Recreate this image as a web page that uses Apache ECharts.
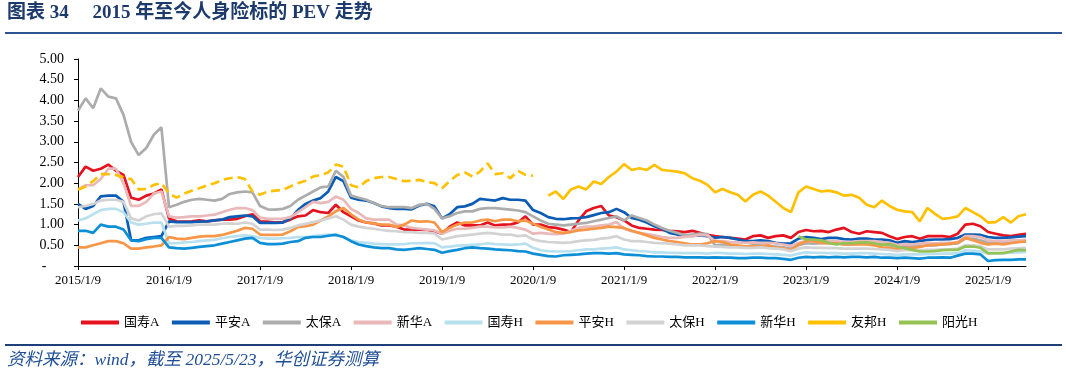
<!DOCTYPE html>
<html><head><meta charset="utf-8">
<script src="https://cdn.jsdelivr.net/npm/echarts@6/dist/echarts.min.js"></script>
<style>html,body{margin:0;padding:0;background:#fff}#c{width:1066px;height:377px}</style>
</head><body><div id="c"></div>
<script>
// categories: monthly sample dates (axis categories), last point = data cut-off date
const categories = [];
for (let y = 2015; y <= 2025; y++) {
  for (let m = 1; m <= 12; m++) {
    if (y === 2025 && m > 5) break;
    categories.push(y + '/' + m + '/9');
  }
}
categories.push('2025/5/23');

const seriesNames = ['国寿A','平安A','太保A','新华A','国寿H','平安H','太保H','新华H','友邦H','阳光H'];
const yTicks = [0,0.5,1,1.5,2,2.5,3,3.5,4,4.5,5];

const gsA = [
 2.15,2.4,2.3,2.35,2.45,2.3,2.2,1.65,1.6,1.7,1.75,1.85,
 1.15,1.08,1.07,1.08,1.1,1.08,1.1,1.12,1.12,1.14,1.2,1.25,
 1.08,1.07,1.05,1.06,1.12,1.2,1.22,1.35,1.3,1.28,1.48,1.3,
 1.2,1.1,1.05,1.03,0.98,0.98,0.95,0.88,0.88,0.88,0.87,0.84,
 0.78,0.95,1.05,0.98,0.98,0.98,1.05,0.98,1.0,1.0,1.05,1.2,
 1.0,1.0,0.94,0.92,0.88,0.82,1.1,1.32,1.4,1.45,1.22,1.18,
 1.1,0.98,0.92,0.9,0.88,0.87,0.85,0.84,0.82,0.85,0.8,0.75,
 0.72,0.7,0.68,0.66,0.64,0.72,0.74,0.68,0.72,0.74,0.68,0.82,
 0.87,0.84,0.85,0.82,0.88,0.92,0.82,0.78,0.84,0.82,0.8,0.72,
 0.65,0.7,0.72,0.66,0.72,0.72,0.72,0.7,0.78,1.0,1.02,0.96,
 0.82,0.78,0.74,0.72,0.75,0.78];
const paA = [
 1.5,1.38,1.45,1.68,1.7,1.7,1.55,0.62,0.62,0.68,0.7,0.72,
 1.08,1.06,1.06,1.06,1.07,1.08,1.1,1.12,1.18,1.2,1.22,1.2,
 1.04,1.04,1.04,1.05,1.15,1.35,1.5,1.58,1.64,1.8,2.15,2.05,
 1.65,1.6,1.58,1.52,1.44,1.4,1.38,1.38,1.37,1.46,1.5,1.44,
 1.15,1.25,1.42,1.44,1.5,1.62,1.6,1.58,1.64,1.6,1.6,1.58,
 1.35,1.28,1.18,1.14,1.13,1.15,1.16,1.18,1.23,1.28,1.3,1.38,
 1.3,1.16,1.12,1.05,0.96,0.9,0.8,0.76,0.74,0.73,0.74,0.72,
 0.68,0.7,0.68,0.64,0.6,0.6,0.62,0.6,0.56,0.54,0.55,0.66,
 0.7,0.68,0.65,0.68,0.68,0.65,0.64,0.66,0.66,0.64,0.64,0.62,
 0.56,0.6,0.58,0.6,0.63,0.64,0.64,0.65,0.68,0.76,0.76,0.75,
 0.7,0.68,0.68,0.69,0.71,0.72];
const tbA = [
 3.75,4.05,3.81,4.29,4.09,4.05,3.65,3.0,2.68,2.85,3.17,3.35,
 1.42,1.48,1.55,1.6,1.62,1.6,1.58,1.62,1.74,1.78,1.8,1.78,
 1.45,1.37,1.36,1.38,1.45,1.6,1.7,1.8,1.9,1.92,2.3,2.15,
 1.7,1.65,1.6,1.52,1.45,1.42,1.42,1.42,1.4,1.48,1.5,1.38,
 1.15,1.2,1.28,1.32,1.32,1.38,1.4,1.4,1.38,1.36,1.34,1.3,
 1.2,1.1,1.02,1.0,0.98,1.0,1.02,1.04,1.08,1.12,1.16,1.2,
 1.1,1.22,1.16,1.1,1.0,0.92,0.85,0.8,0.74,0.76,0.78,0.77,
 0.5,0.52,0.5,0.48,0.47,0.5,0.5,0.48,0.47,0.45,0.42,0.5,
 0.55,0.54,0.55,0.56,0.55,0.52,0.52,0.54,0.55,0.53,0.52,0.5,
 0.46,0.48,0.48,0.48,0.5,0.5,0.52,0.53,0.55,0.66,0.66,0.62,
 0.56,0.56,0.55,0.57,0.58,0.6];
const xhA = [
 1.85,1.95,1.95,2.1,2.35,2.35,2.0,1.45,1.45,1.55,1.75,1.8,
 1.2,1.17,1.18,1.2,1.2,1.22,1.24,1.3,1.36,1.4,1.4,1.35,
 1.17,1.14,1.14,1.14,1.18,1.3,1.42,1.55,1.52,1.55,1.68,1.6,
 1.38,1.28,1.15,1.12,1.12,1.12,1.0,0.98,0.92,0.9,0.88,0.86,
 0.78,0.85,0.9,0.9,0.92,0.95,0.95,0.93,0.93,0.95,0.92,0.88,
 0.78,0.8,0.78,0.77,0.78,0.85,0.92,0.95,0.95,0.98,1.0,1.06,
 0.9,0.84,0.8,0.77,0.74,0.7,0.68,0.68,0.7,0.72,0.75,0.74,
 0.6,0.6,0.58,0.57,0.56,0.57,0.56,0.56,0.55,0.52,0.48,0.56,
 0.6,0.6,0.6,0.6,0.6,0.58,0.58,0.6,0.6,0.6,0.58,0.56,
 0.51,0.52,0.52,0.54,0.56,0.55,0.56,0.56,0.58,0.72,0.72,0.7,
 0.62,0.6,0.6,0.62,0.62,0.63];
const gsH = [
 1.1,1.15,1.25,1.35,1.38,1.38,1.3,1.05,1.0,1.02,1.05,1.05,
 0.55,0.55,0.57,0.58,0.6,0.62,0.63,0.67,0.7,0.72,0.74,0.72,
 0.68,0.66,0.66,0.67,0.68,0.7,0.7,0.72,0.74,0.76,0.76,0.7,
 0.62,0.58,0.56,0.54,0.53,0.52,0.52,0.53,0.55,0.55,0.56,0.55,
 0.45,0.47,0.49,0.5,0.51,0.52,0.55,0.53,0.52,0.51,0.52,0.54,
 0.44,0.38,0.36,0.35,0.35,0.36,0.38,0.4,0.4,0.42,0.43,0.45,
 0.4,0.38,0.36,0.35,0.33,0.33,0.32,0.32,0.31,0.31,0.31,0.3,
 0.32,0.31,0.3,0.3,0.29,0.3,0.3,0.29,0.28,0.27,0.25,0.3,
 0.33,0.32,0.32,0.31,0.31,0.3,0.3,0.31,0.31,0.3,0.29,0.28,
 0.27,0.28,0.28,0.28,0.29,0.29,0.3,0.3,0.31,0.38,0.37,0.35,
 0.3,0.3,0.31,0.32,0.33,0.34];
const paH = [
 0.45,0.45,0.5,0.55,0.6,0.6,0.55,0.42,0.42,0.45,0.47,0.5,
 0.7,0.66,0.65,0.68,0.71,0.72,0.72,0.75,0.8,0.85,0.92,0.9,
 0.76,0.75,0.75,0.76,0.84,0.94,0.96,1.0,1.1,1.2,1.32,1.4,
 1.25,1.12,1.05,1.03,1.0,1.0,0.94,1.0,1.1,1.07,1.08,1.05,
 0.82,0.92,1.0,1.05,1.05,1.1,1.12,1.08,1.12,1.12,1.08,1.1,
 1.02,0.95,0.88,0.82,0.8,0.82,0.86,0.88,0.9,0.92,0.95,0.94,
 0.92,0.85,0.8,0.74,0.68,0.64,0.6,0.58,0.55,0.52,0.52,0.55,
 0.6,0.58,0.52,0.5,0.47,0.48,0.47,0.5,0.44,0.43,0.38,0.52,
 0.6,0.6,0.56,0.55,0.55,0.52,0.52,0.52,0.52,0.5,0.45,0.44,
 0.4,0.43,0.43,0.46,0.5,0.51,0.52,0.54,0.56,0.68,0.62,0.56,
 0.52,0.54,0.52,0.55,0.58,0.59];
const tbH = [
 1.42,1.45,1.5,1.58,1.6,1.6,1.55,1.15,1.1,1.2,1.25,1.27,
 0.95,0.97,0.97,0.98,1.0,1.0,1.0,1.02,1.03,1.02,1.05,1.02,
 0.88,0.88,0.87,0.88,0.92,0.98,1.02,1.06,1.1,1.15,1.2,1.12,
 1.0,0.95,0.92,0.9,0.87,0.85,0.84,0.82,0.82,0.8,0.8,0.78,
 0.64,0.68,0.72,0.74,0.76,0.78,0.8,0.78,0.76,0.76,0.72,0.74,
 0.64,0.6,0.58,0.57,0.56,0.57,0.6,0.62,0.63,0.66,0.68,0.72,
 0.64,0.6,0.6,0.58,0.56,0.55,0.54,0.52,0.5,0.5,0.5,0.48,
 0.47,0.46,0.45,0.45,0.44,0.44,0.45,0.43,0.42,0.4,0.36,0.42,
 0.45,0.44,0.44,0.43,0.43,0.42,0.42,0.42,0.42,0.41,0.4,0.39,
 0.36,0.38,0.38,0.38,0.39,0.39,0.4,0.4,0.42,0.5,0.5,0.48,
 0.4,0.4,0.4,0.42,0.43,0.44];
const xhH = [
 0.85,0.85,0.8,1.0,0.95,0.95,0.88,0.62,0.6,0.65,0.68,0.68,
 0.45,0.43,0.42,0.44,0.46,0.48,0.5,0.54,0.58,0.62,0.66,0.68,
 0.56,0.53,0.53,0.54,0.58,0.6,0.68,0.7,0.7,0.73,0.75,0.7,
 0.6,0.52,0.48,0.45,0.43,0.43,0.4,0.39,0.41,0.43,0.41,0.39,
 0.32,0.36,0.39,0.43,0.45,0.43,0.42,0.4,0.39,0.38,0.36,0.35,
 0.3,0.27,0.24,0.23,0.26,0.27,0.28,0.3,0.31,0.31,0.3,0.31,
 0.28,0.27,0.26,0.24,0.23,0.23,0.22,0.22,0.21,0.21,0.21,0.2,
 0.21,0.2,0.2,0.19,0.19,0.2,0.2,0.19,0.19,0.17,0.15,0.2,
 0.22,0.21,0.22,0.21,0.22,0.21,0.22,0.22,0.21,0.22,0.2,0.2,
 0.19,0.2,0.19,0.18,0.2,0.2,0.21,0.2,0.25,0.3,0.3,0.28,
 0.12,0.14,0.15,0.15,0.16,0.16];
// 友邦H: earlier period (sparse data, drawn broken) and later period
const ybH_early = [
 1.84,1.92,2.05,2.22,2.22,2.2,2.14,2.1,1.85,1.86,1.96,2.0,
 1.75,1.65,1.75,1.82,1.88,1.95,2.0,2.08,2.12,2.15,2.1,1.8,
 1.72,1.8,1.82,1.84,1.92,2.0,2.06,2.16,2.2,2.26,2.45,2.4,
 1.95,1.9,2.05,2.12,2.15,2.15,2.1,2.05,2.06,2.08,2.03,2.0,
 1.88,2.05,2.2,2.26,2.16,2.28,2.48,2.22,2.24,2.12,2.3,2.2,
 2.18];
const ybH_late = [
 1.7,1.8,1.62,1.85,1.92,1.85,2.04,1.98,2.15,2.28,
 2.46,2.32,2.36,2.32,2.44,2.32,2.3,2.28,2.24,2.12,2.06,1.96,
 1.78,1.86,1.78,1.72,1.56,1.72,1.8,1.7,1.55,1.4,1.3,1.78,
 1.92,1.86,1.8,1.82,1.78,1.7,1.72,1.65,1.48,1.42,1.58,1.45,
 1.36,1.32,1.3,1.08,1.4,1.26,1.14,1.16,1.2,1.4,1.3,1.2,
 1.05,1.06,1.18,1.05,1.2,1.25];
const ygH = [
 0.72,
 0.64,0.64,0.62,0.56,0.52,0.55,0.55,0.57,0.57,0.55,0.51,0.53,
 0.47,0.43,0.39,0.35,0.35,0.36,0.38,0.39,0.39,0.47,0.47,0.44,
 0.31,0.31,0.31,0.35,0.39,0.38];

const N = categories.length;
function padTo(arr, start) { // place arr beginning at category index `start`
  const out = new Array(N).fill(null);
  for (let k = 0; k < arr.length && start + k < N; k++) out[start + k] = arr[k];
  return out;
}
const ybEarlyFull = padTo(ybH_early, 0);
const ybLateFull = padTo(ybH_late, N - ybH_late.length);
const ygFull = padTo(ygH, N - ygH.length);

const colors = {
 '国寿A':'#e5131f','平安A':'#0b5cb5','太保A':'#acacac','新华A':'#e9b9b9','国寿H':'#b9e0ee',
 '平安H':'#f79646','太保H':'#d3d3d3','新华H':'#0d8fd8','友邦H':'#ffc000','阳光H':'#94c255'
};
function line(name, data, extra) {
  return Object.assign({
    name, type:'line', data, showSymbol:false, symbol:'none', smooth:false,
    connectNulls:false, animation:false,
    lineStyle:{color:colors[name], width:2.7}, itemStyle:{color:colors[name]}
  }, extra || {});
}
const series = [
  line('国寿A', gsA), line('平安A', paA), line('太保A', tbA), line('新华A', xhA),
  line('国寿H', gsH), line('平安H', paH), line('太保H', tbH), line('新华H', xhH),
  line('友邦H', ybLateFull),
  line('友邦H', ybEarlyFull, {lineStyle:{color:colors['友邦H'], width:2.7, type:[9,5]}}),
  line('阳光H', ygFull)
];
const chart = echarts.init(document.getElementById('c'), null, {renderer:'canvas'});
const serif = '"Liberation Serif","Times New Roman","Noto Sans CJK SC",serif';
chart.setOption({
  animation:false,
  color: seriesNames.map(n => colors[n]),
  grid:{left:78, right:40, top:59, bottom:111, containLabel:false},
  legend:{
    data: seriesNames, left:76, top:311, icon:'rect', itemWidth:38, itemHeight:4, itemGap:12.5,
    textStyle:{fontFamily:serif, fontSize:13, color:'#000'}
  },
  xAxis:{
    type:'category', data:categories, boundaryGap:false,
    axisLine:{lineStyle:{color:'#000', width:1}},
    axisTick:{show:true, length:4, interval:(i, v) => /\/1\/9$/.test(v), lineStyle:{color:'#000'}},
    axisLabel:{interval:(i, v) => /\/1\/9$/.test(v), fontFamily:serif, fontSize:13, color:'#000', margin:8},
    splitLine:{show:false}
  },
  yAxis:{
    type:'value', min:yTicks[0], max:yTicks[yTicks.length-1], interval:0.5,
    axisLine:{show:true, lineStyle:{color:'#000', width:1}},
    axisTick:{show:true, length:4, lineStyle:{color:'#000'}},
    axisLabel:{formatter:v => v === 0 ? '-     ' : v.toFixed(2), fontFamily:serif, fontSize:14, color:'#000', margin:14},
    splitLine:{show:false}
  },
  series,
  graphic:[
    {type:'text', left:7, top:4, style:{text:'图表 34     2015 年至今人身险标的 PEV 走势', font:'bold 19px ' + serif, fill:'#1d3a6c'}},
    {type:'line', shape:{x1:5, y1:33, x2:1062, y2:33}, style:{stroke:'#2d5595', lineWidth:2}},
    {type:'line', shape:{x1:5, y1:345, x2:1062, y2:345}, style:{stroke:'#1f3f78', lineWidth:2}},
    {type:'text', left:7, top:352, style:{text:'资料来源：wind，截至 2025/5/23，华创证券测算', font:'italic 17.5px ' + serif, fill:'#1f4e96'}}
  ]
});
</script></body></html>
